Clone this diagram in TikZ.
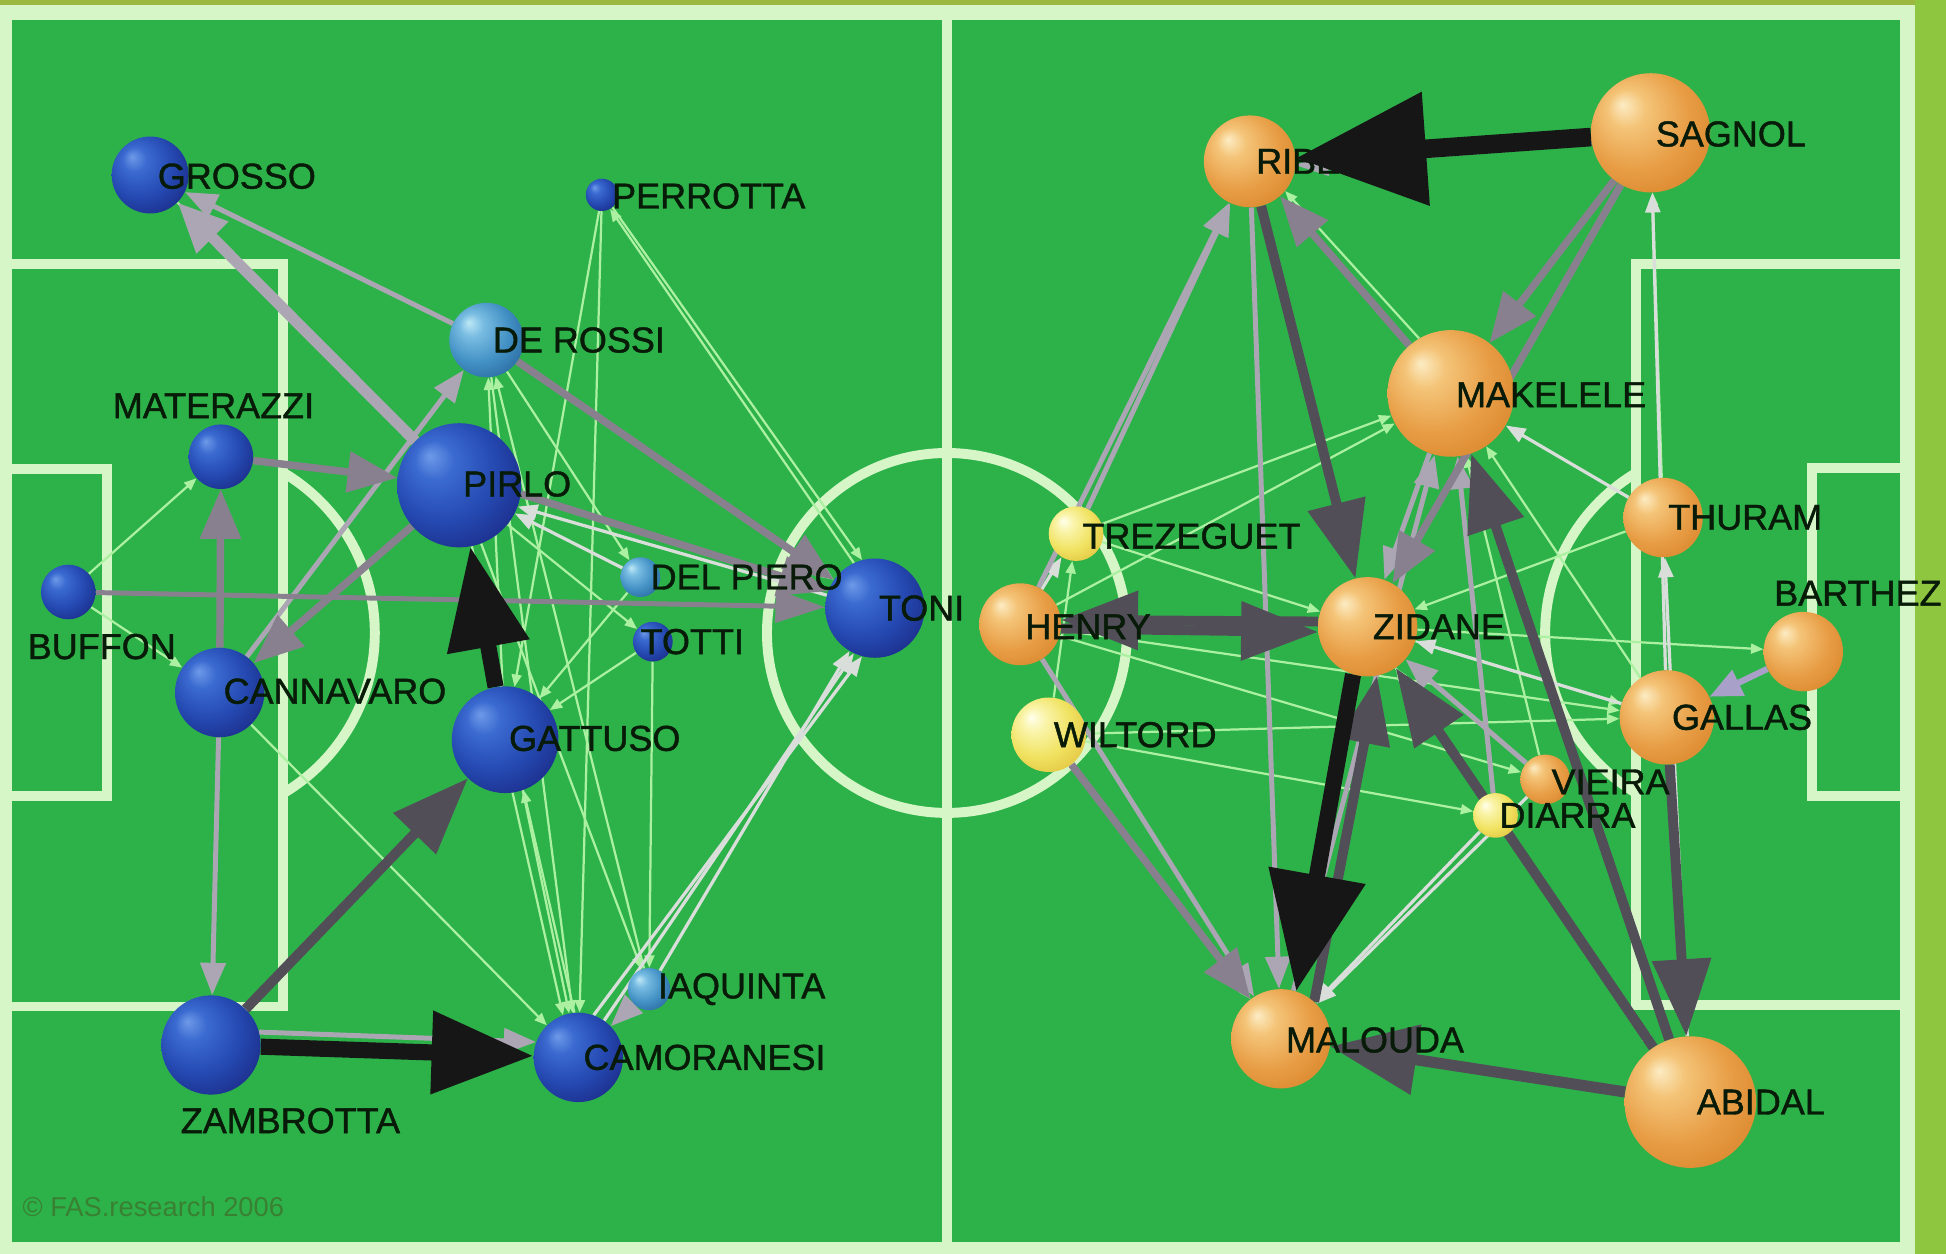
\documentclass[tikz,border=0pt]{standalone}
\usepackage{fontspec}
\setmainfont{Liberation Sans}
\newfontfamily\tagfont[FakeBold=1.2]{Liberation Sans}
\usetikzlibrary{arrows.meta}

% pitch colours
\definecolor{turf}{RGB}{45,178,74}
\definecolor{chalk}{RGB}{214,246,200}
\definecolor{olive}{RGB}{156,184,64}
\definecolor{lime}{RGB}{142,198,63}
\definecolor{ink}{RGB}{8,26,8}
\definecolor{stamp}{RGB}{58,128,50}

% pass colours
\definecolor{vein}{RGB}{172,240,162}
\definecolor{mist}{RGB}{218,222,218}
\definecolor{ash}{RGB}{172,166,180}
\definecolor{lilac}{RGB}{168,160,200}
\definecolor{smoke}{RGB}{136,128,142}
\definecolor{slate}{RGB}{82,78,88}
\definecolor{coal}{RGB}{22,22,22}

% sphere shadings
\definecolor{bA}{RGB}{110,154,232}\definecolor{bB}{RGB}{58,106,208}
\definecolor{bC}{RGB}{36,72,176}\definecolor{bD}{RGB}{28,44,136}\definecolor{bE}{RGB}{20,24,96}
\pgfdeclareradialshading{blueorb}{\pgfpoint{-12bp}{12bp}}{color(0bp)=(bA); color(8bp)=(bB); color(22bp)=(bC); color(34bp)=(bD); color(50bp)=(bE)}
\definecolor{cA}{RGB}{190,232,246}\definecolor{cB}{RGB}{120,188,226}
\definecolor{cC}{RGB}{66,144,196}\definecolor{cD}{RGB}{42,106,160}\definecolor{cE}{RGB}{26,74,128}
\pgfdeclareradialshading{cyanorb}{\pgfpoint{-12bp}{12bp}}{color(0bp)=(cA); color(8bp)=(cB); color(22bp)=(cC); color(34bp)=(cD); color(50bp)=(cE)}
\definecolor{oA}{RGB}{252,236,196}\definecolor{oB}{RGB}{244,196,120}
\definecolor{oC}{RGB}{232,158,70}\definecolor{oD}{RGB}{218,136,46}\definecolor{oE}{RGB}{196,112,30}
\pgfdeclareradialshading{orangeorb}{\pgfpoint{-12bp}{12bp}}{color(0bp)=(oA); color(8bp)=(oB); color(22bp)=(oC); color(34bp)=(oD); color(50bp)=(oE)}
\definecolor{yA}{RGB}{255,255,236}\definecolor{yB}{RGB}{250,244,170}
\definecolor{yC}{RGB}{240,226,96}\definecolor{yD}{RGB}{226,196,64}\definecolor{yE}{RGB}{204,160,32}
\pgfdeclareradialshading{yelloworb}{\pgfpoint{-12bp}{12bp}}{color(0bp)=(yA); color(8bp)=(yB); color(22bp)=(yC); color(34bp)=(yD); color(50bp)=(yE)}

\pgfdeclarelayer{pitch}
\pgfdeclarelayer{links}
\pgfdeclarelayer{front}
\pgfsetlayers{pitch,links,main,front}

\tikzset{
  orb/.style={circle, inner sep=0pt, minimum size=#1},
  italy/.style={orb=#1, shading=blueorb},
  italylight/.style={orb=#1, shading=cyanorb},
  france/.style={orb=#1, shading=orangeorb},
  franceyellow/.style={orb=#1, shading=yelloworb},
  tag/.style={font=\tagfont\fontsize{29}{30}\selectfont, text=ink, inner sep=0pt, anchor=west},
  tagc/.style={tag, anchor=center},
  chalkline/.style={draw=chalk, line width=8pt},
  lk/.style n args={4}{draw=#1, line width=#2, -{Triangle[length=#3,width=#4]}},
  thinlk/.style={lk={vein}{1.8pt}{10pt}{8pt}},
  palelk/.style={lk={mist}{2.6pt}{16pt}{12pt}},
  greylk/.style={lk={ash}{4pt}{26pt}{20pt}},
  midlk/.style={lk={smoke}{6pt}{40pt}{32pt}},
  darklk/.style={lk={slate}{8pt}{62pt}{46pt}},
  blacklk/.style={lk={coal}{13pt}{82pt}{64pt}},
  hugelk/.style={lk={coal}{15pt}{105pt}{88pt}},
}

\begin{document}
\begin{tikzpicture}[x=1pt, y=-1pt]
\useasboundingbox (0,0) rectangle (1568,1010);

% ---------- pitch ----------
\begin{pgfonlayer}{pitch}
  \fill[chalk] (0,0) rectangle (1568,1010);
  \fill[olive] (0,0) rectangle (1568,4);
  \fill[lime] (1543,0) rectangle (1568,1010);
  \fill[turf] (10,16) rectangle (1531,1001);
  \draw[chalkline] (763,16) -- (763,1001);
  \draw[chalkline] (763,510) circle[radius=145];
  % left half
  \draw[chalkline] (10,213) -- (228,213) -- (228,811) -- (10,811);
  \draw[chalkline] (10,378) -- (86,378) -- (86,641) -- (10,641);
  \begin{scope}
    \clip (232,0) rectangle (500,1010);
    \draw[chalkline] (152,510) circle[radius=150];
  \end{scope}
  % right half
  \draw[chalkline] (1531,213) -- (1318,213) -- (1318,810) -- (1531,810);
  \draw[chalkline] (1531,377) -- (1460,377) -- (1460,641) -- (1531,641);
  \begin{scope}
    \clip (1314,0) rectangle (1000,1010);
    \draw[chalkline] (1395,510) circle[radius=150];
  \end{scope}
  \node[font=\fontsize{22}{24}\selectfont, text=stamp, anchor=west, inner sep=0pt] (credit) at (18,972) {© FAS.research 2006};
\end{pgfonlayer}

% ---------- Italy ----------
\node[italy=62] (grosso) at (121,141) {};
\node[italy=26] (perrotta) at (485,157) {};
\node[italylight=60] (derossi) at (392,274) {};
\node[italy=52] (materazzi) at (178,368) {};
\node[italy=100] (pirlo) at (370,391) {};
\node[italy=44] (buffon) at (55,477) {};
\node[italylight=32] (delpiero) at (516,465) {};
\node[italy=32] (totti) at (526,517) {};
\node[italy=80] (toni) at (705,490) {};
\node[italy=72] (cannavaro) at (177,558) {};
\node[italy=86] (gattuso) at (407,596) {};
\node[italylight=34] (iaquinta) at (523,797) {};
\node[italy=72] (camoranesi) at (466,852) {};
\node[italy=80] (zambrotta) at (170,842) {};

\node[tag] (t-grosso) at (127,142) {GROSSO};
\node[tag] (t-perrotta) at (493,158) {PERROTTA};
\node[tag] (t-derossi) at (397,274) {DE ROSSI};
\node[tagc] (t-materazzi) at (172,327) {MATERAZZI};
\node[tag] (t-pirlo) at (373,390) {PIRLO};
\node[tagc] (t-buffon) at (82,521) {BUFFON};
\node[tag] (t-delpiero) at (524,465) {DEL PIERO};
\node[tag] (t-totti) at (516,517) {TOTTI};
\node[tag] (t-toni) at (708,490) {TONI};
\node[tag] (t-cannavaro) at (180,557) {CANNAVARO};
\node[tag] (t-gattuso) at (410,595) {GATTUSO};
\node[tag] (t-iaquinta) at (530,797) {IAQUINTA};
\node[tag] (t-camoranesi) at (470,852) {CAMORANESI};
\node[tagc] (t-zambrotta) at (234,903) {ZAMBROTTA};

% ---------- France ----------
\node[france=74] (ribery) at (1007,130) {};
\node[france=96] (sagnol) at (1330,107) {};
\node[france=102] (makelele) at (1169,317) {};
\node[france=64] (thuram) at (1340,417) {};
\node[france=64] (barthez) at (1453,525) {};
\node[franceyellow=44] (trezeguet) at (867,430) {};
\node[france=66] (henry) at (822,503) {};
\node[france=80] (zidane) at (1102,505) {};
\node[france=76] (gallas) at (1343,578) {};
\node[franceyellow=60] (wiltord) at (845,592) {};
\node[france=40] (vieira) at (1245,628) {};
\node[franceyellow=36] (diarra) at (1205,657) {};
\node[france=80] (malouda) at (1032,837) {};
\node[france=106] (abidal) at (1362,888) {};

\node[tag] (t-ribery) at (1012,130) {RIBERY};
\node[tag] (t-sagnol) at (1334,108) {SAGNOL};
\node[tag] (t-makelele) at (1173,318) {MAKELELE};
\node[tag] (t-thuram) at (1344,417) {THURAM};
\node[tagc] (t-barthez) at (1497,478) {BARTHEZ};
\node[tag] (t-trezeguet) at (872,432) {TREZEGUET};
\node[tag] (t-henry) at (826,505) {HENRY};
\node[tag] (t-zidane) at (1106,505) {ZIDANE};
\node[tag] (t-gallas) at (1347,578) {GALLAS};
\node[tag] (t-wiltord) at (849,592) {WILTORD};
\node[tag] (t-vieira) at (1250,630) {VIEIRA};
\node[tag] (t-diarra) at (1208,657) {DIARRA};
\node[tag] (t-malouda) at (1036,838) {MALOUDA};
\node[tag] (t-abidal) at (1367,888) {ABIDAL};

% ---------- passes ----------
\begin{pgfonlayer}{links}
  % Italy: occasional passes
  \draw[thinlk] (buffon) -- (materazzi);
  \draw[thinlk] (grosso) -- (pirlo);
  \draw[thinlk] (cannavaro) -- (camoranesi);
  \draw[thinlk] (buffon) -- (cannavaro);
  \draw[thinlk] (perrotta) -- (gattuso);
  \draw[thinlk] (toni.115) -- (perrotta.-60);
  \draw[thinlk] (perrotta.-50) -- (toni.105);
  \draw[thinlk] (perrotta) -- (camoranesi);
  \draw[thinlk] (pirlo) -- (camoranesi);
  \draw[thinlk] (camoranesi.95) -- (gattuso.-70);
  \draw[thinlk] (gattuso.-82) -- (camoranesi.110);
  \draw[thinlk] (totti) -- (iaquinta);
  \draw[thinlk] (totti) -- (gattuso);
  \draw[thinlk] (derossi) -- (camoranesi);
  \draw[thinlk] (pirlo) -- (iaquinta);
  \draw[thinlk] (pirlo) -- (totti);
  \draw[thinlk] (derossi) -- (delpiero);
  \draw[thinlk] (gattuso) -- (derossi);
  \draw[thinlk] (delpiero) -- (gattuso);
  \draw[thinlk] (iaquinta) -- (derossi);
  \draw[thinlk] (derossi) -- (toni);
  % Italy: regular passes
  \draw[palelk] (camoranesi.55) -- (toni.-115);
  \draw[palelk] (iaquinta) -- (toni);
  \draw[palelk] (camoranesi.70) -- (toni.-105);
  \draw[palelk] (delpiero) -- (pirlo);
  \draw[palelk] (toni.165) -- (pirlo.-20);
  \draw[greylk] (cannavaro) -- (zambrotta);
  \draw[greylk] (derossi) -- (grosso);
  \draw[greylk] (zambrotta.15) -- (camoranesi.160);
  \draw[greylk] (iaquinta) -- (camoranesi);
  \draw[greylk] (cannavaro) -- (derossi);
  \draw[lk={smoke}{4pt}{40pt}{26pt}] (buffon) -- (toni);
  \draw[midlk] (materazzi) -- (pirlo);
  \draw[midlk] (pirlo) -- (cannavaro);
  \draw[midlk] (cannavaro) -- (materazzi);
  \draw[lk={ash}{9pt}{40pt}{34pt}] (pirlo) -- (grosso);
  \draw[midlk] (pirlo.-8) -- (toni.160);
  \draw[midlk] (derossi) -- (toni);
  % Italy: frequent passes
  \draw[darklk] (zambrotta) -- (gattuso);
  \draw[blacklk] (zambrotta) -- (camoranesi);
  \draw[blacklk] (gattuso) -- (pirlo);

  % France: occasional passes
  \draw[thinlk] (trezeguet) -- (makelele);
  \draw[thinlk] (henry) -- (makelele);
  \draw[thinlk] (wiltord) -- (gallas);
  \draw[thinlk] (henry) -- (gallas);
  \draw[thinlk] (zidane) -- (gallas);
  \draw[thinlk] (zidane) -- (barthez);
  \draw[thinlk] (zidane) -- (abidal);
  \draw[thinlk] (wiltord) -- (malouda);
  \draw[thinlk] (diarra) -- (zidane);
  \draw[thinlk] (thuram) -- (zidane);
  \draw[thinlk] (henry) -- (vieira);
  \draw[thinlk] (wiltord) -- (diarra);
  \draw[thinlk] (vieira) -- (makelele);
  \draw[thinlk] (gallas) -- (makelele);
  \draw[thinlk] (trezeguet) -- (zidane);
  \draw[thinlk] (makelele.120) -- (ribery.-40);
  \draw[thinlk] (thuram) -- (sagnol);
  \draw[thinlk] (diarra) -- (abidal);
  \draw[thinlk] (wiltord) -- (trezeguet);
  % France: regular passes
  \draw[palelk] (diarra) -- (malouda);
  \draw[palelk] (vieira) -- (malouda);
  \draw[palelk] (gallas) -- (sagnol);
  \draw[palelk] (thuram) -- (makelele);
  \draw[palelk] (gallas) -- (zidane);
  \draw[palelk] (henry) -- (trezeguet);
  \draw[palelk] (abidal) -- (thuram);
  \draw[greylk] (henry) -- (ribery);
  \draw[greylk] (trezeguet) -- (ribery);
  \draw[greylk] (ribery) -- (malouda);
  \draw[greylk] (henry) -- (malouda);
  \draw[greylk] (makelele) -- (zidane);
  \draw[greylk] (malouda) -- (makelele);
  \draw[greylk] (sagnol.190) -- (ribery.-5);
  \draw[greylk] (vieira) -- (zidane);
  \draw[greylk] (diarra) -- (makelele);
  \draw[lk={lilac}{5pt}{26pt}{22pt}] (barthez) -- (gallas);
  \draw[midlk] (makelele) -- (ribery);
  \draw[midlk] (sagnol) -- (zidane);
  \draw[midlk] (wiltord) -- (malouda);
  \draw[midlk] (sagnol) -- (makelele);
  % France: frequent passes
  \draw[darklk] (ribery) -- (zidane);
  \draw[darklk] (henry.-6) -- (zidane.186);
  \draw[darklk] (zidane.174) -- (henry.6);
  \draw[lk={slate}{8pt}{55pt}{40pt}] (malouda.48) -- (zidane.-79);
  \draw[lk={slate}{9pt}{70pt}{55pt}] (abidal) -- (malouda);
  \draw[darklk] (abidal) -- (zidane);
  \draw[darklk] (abidal) -- (makelele);
  \draw[darklk] (gallas) -- (abidal);
  \draw[lk={coal}{13pt}{95pt}{76pt}] (zidane.-107) -- (malouda.72);
\end{pgfonlayer}

\begin{pgfonlayer}{front}
  \draw[hugelk] (sagnol) -- (ribery);
\end{pgfonlayer}
\end{tikzpicture}
\end{document}
